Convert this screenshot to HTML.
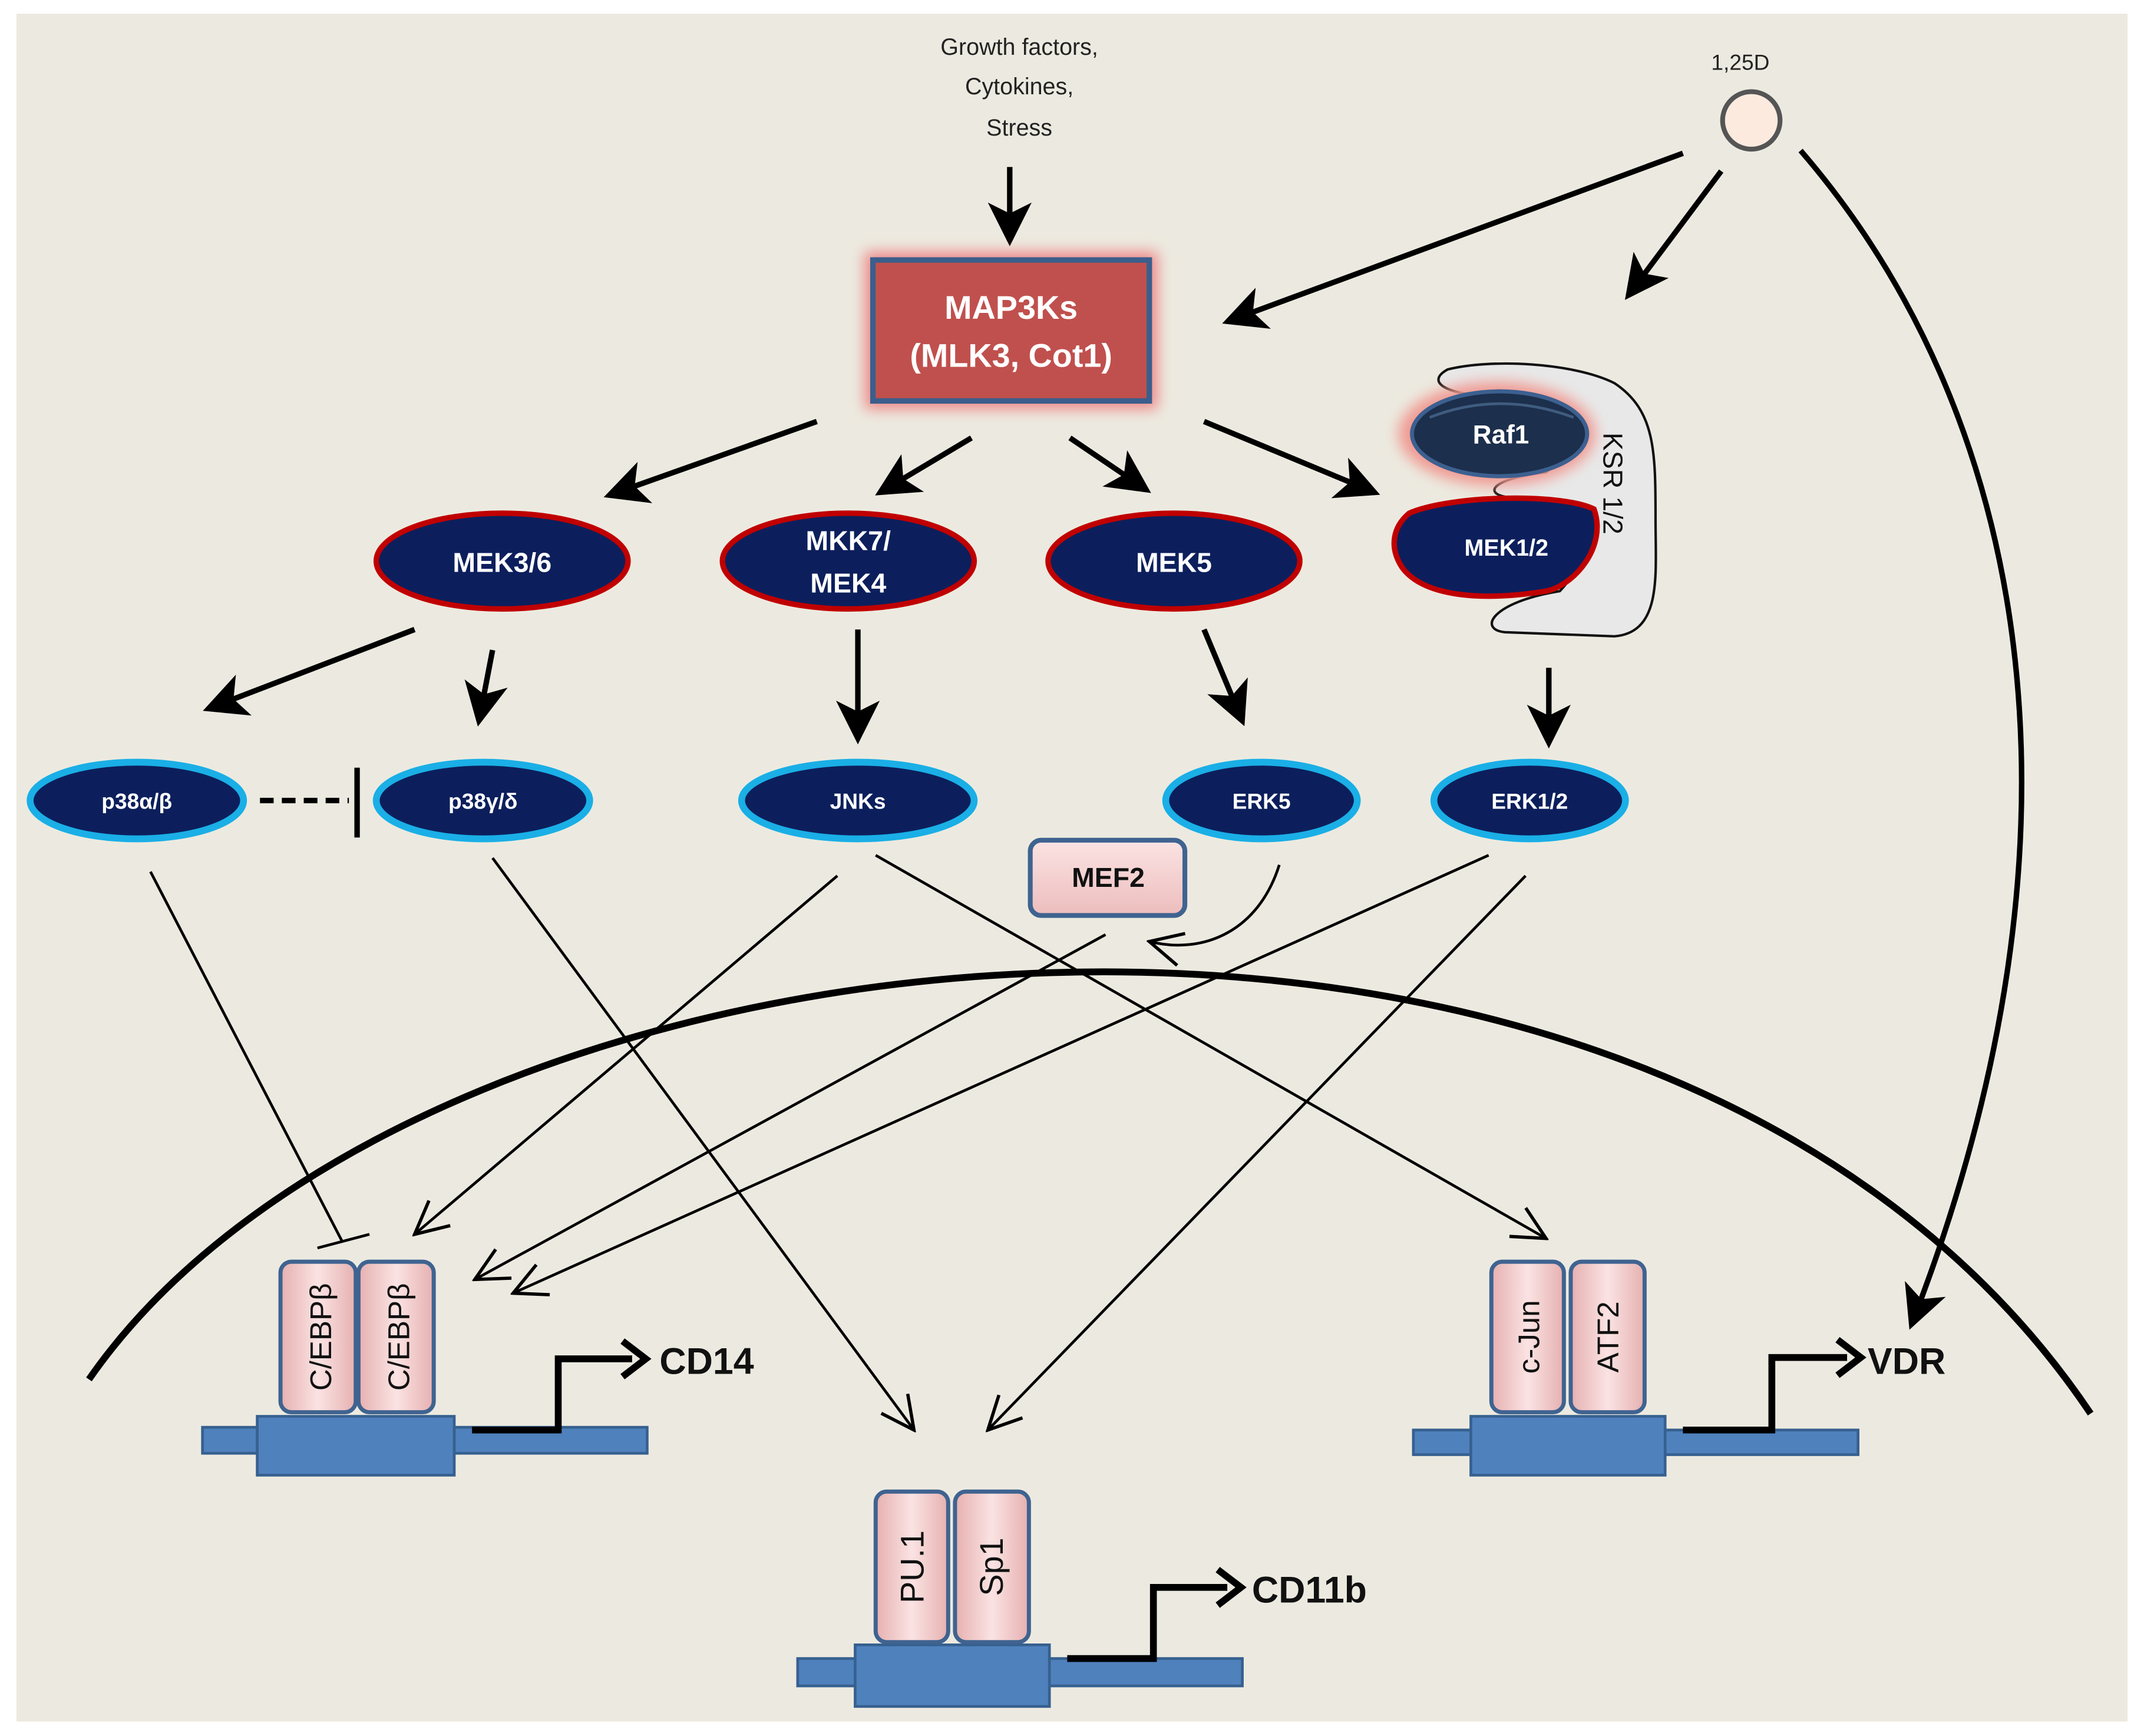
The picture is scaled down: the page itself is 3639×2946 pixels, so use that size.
<!DOCTYPE html>
<html><head><meta charset="utf-8"><style>
html,body{margin:0;padding:0;background:#fff;}
svg{display:block;}
text{font-family:"Liberation Sans","DejaVu Sans",sans-serif;}
</style></head><body>
<svg width="3639" height="2946" viewBox="0 0 1567 1268.6" preserveAspectRatio="none" xmlns="http://www.w3.org/2000/svg">
<defs>
<marker id="a" markerWidth="8" markerHeight="8" refX="7" refY="4" orient="auto" markerUnits="strokeWidth">
<path d="M0,0 L8,4 L0,8 L2,4 Z" fill="#000"/></marker>
<marker id="b" markerWidth="14" markerHeight="14" refX="13" refY="7" orient="auto" markerUnits="strokeWidth">
<path d="M1,1 L13,7 L1,13" fill="none" stroke="#000" stroke-width="1.2"/></marker>
<filter id="g" x="-30%" y="-30%" width="160%" height="160%"><feGaussianBlur stdDeviation="5"/></filter>
<linearGradient id="pk" x1="0" y1="0" x2="1" y2="0"><stop offset="0" stop-color="#E6B0B0"/><stop offset="0.5" stop-color="#FBE3E3"/><stop offset="1" stop-color="#E6B0B0"/></linearGradient>
<linearGradient id="pk2" x1="0" y1="0" x2="0" y2="1"><stop offset="0" stop-color="#FBE3E3"/><stop offset="1" stop-color="#EDBDBD"/></linearGradient>
</defs>
<rect x="0" y="0" width="1567" height="1268.6" fill="#fff"/>
<rect x="12" y="10" width="1543" height="1248" fill="#ECEAE0"/>

<text x="745" y="40" font-size="17" text-anchor="middle" fill="#222">Growth factors,</text>
<text x="745" y="69" font-size="17" text-anchor="middle" fill="#222">Cytokines,</text>
<text x="745" y="99" font-size="17" text-anchor="middle" fill="#222">Stress</text>
<line x1="738" y1="122" x2="738" y2="176" stroke="#000" stroke-width="4" marker-end="url(#a)"/>

<rect x="632" y="184" width="214" height="115" fill="#E88" filter="url(#g)"/>
<rect x="638" y="190" width="202" height="103" fill="#C0504D" stroke="#3B5E8C" stroke-width="4"/>
<text x="739" y="233" font-size="24" font-weight="bold" text-anchor="middle" fill="#fff">MAP3Ks</text>
<text x="739" y="268" font-size="24" font-weight="bold" text-anchor="middle" fill="#fff">(MLK3, Cot1)</text>

<text x="1272" y="51" font-size="16" text-anchor="middle" fill="#222">1,25D</text>
<circle cx="1280" cy="88" r="21" fill="#FDEADF" stroke="#555" stroke-width="3.5"/>
<line x1="1230" y1="112" x2="897" y2="235" stroke="#000" stroke-width="4" marker-end="url(#a)"/>
<line x1="1258" y1="125" x2="1190" y2="216" stroke="#000" stroke-width="4" marker-end="url(#a)"/>
<path d="M1316,110 C1480,300 1540,600 1397,968" fill="none" stroke="#000" stroke-width="4" marker-end="url(#a)"/>

<line x1="597" y1="308" x2="445" y2="362" stroke="#000" stroke-width="4" marker-end="url(#a)"/>
<line x1="710" y1="320" x2="643" y2="360" stroke="#000" stroke-width="4" marker-end="url(#a)"/>
<line x1="782" y1="320" x2="838" y2="358" stroke="#000" stroke-width="4" marker-end="url(#a)"/>
<line x1="880" y1="308" x2="1005" y2="360" stroke="#000" stroke-width="4" marker-end="url(#a)"/>

<path d="M1058,270 C1040,280 1060,290 1100,290 C1150,292 1165,320 1130,345 C1090,350 1085,360 1100,363 C1160,365 1170,400 1140,432 C1090,440 1080,460 1100,462 L1180,465 C1215,462 1210,420 1210,380 C1210,330 1210,300 1180,280 C1150,265 1090,262 1058,270 Z" fill="#E8E8E8" stroke="#111" stroke-width="1.8"/>
<text x="0" y="0" font-size="20" fill="#111" transform="translate(1172,316) rotate(90)">KSR 1/2</text>

<ellipse cx="1094" cy="317" rx="72" ry="38" fill="#F09A92" filter="url(#g)"/>
<ellipse cx="1096" cy="317" rx="64" ry="31" fill="#1C2F4C" stroke="#3C6090" stroke-width="3"/>
<path d="M1045,305 Q1096,285 1150,305" fill="none" stroke="#4F6F96" stroke-width="2" opacity="0.7"/>
<text x="1097" y="324" font-size="19" font-weight="bold" text-anchor="middle" fill="#fff">Raf1</text>

<ellipse cx="367" cy="410" rx="92" ry="35" fill="#0C1F5C" stroke="#C00000" stroke-width="4"/>
<text x="367" y="418" font-size="20" font-weight="bold" text-anchor="middle" fill="#fff">MEK3/6</text>
<ellipse cx="620" cy="410" rx="92" ry="35" fill="#0C1F5C" stroke="#C00000" stroke-width="4"/>
<text x="620" y="402" font-size="20" font-weight="bold" text-anchor="middle" fill="#fff">MKK7/</text>
<text x="620" y="433" font-size="20" font-weight="bold" text-anchor="middle" fill="#fff">MEK4</text>
<ellipse cx="858" cy="410" rx="92" ry="35" fill="#0C1F5C" stroke="#C00000" stroke-width="4"/>
<text x="858" y="418" font-size="20" font-weight="bold" text-anchor="middle" fill="#fff">MEK5</text>
<path d="M1030,375 C1060,362 1140,360 1165,372 C1175,400 1150,428 1130,432 C1080,440 1040,435 1025,415 C1015,400 1018,385 1030,375 Z" fill="#0C1F5C" stroke="#C00000" stroke-width="4"/>
<text x="1101" y="406" font-size="17" font-weight="bold" text-anchor="middle" fill="#fff">MEK1/2</text>

<line x1="303" y1="460" x2="152" y2="518" stroke="#000" stroke-width="4" marker-end="url(#a)"/>
<line x1="360" y1="475" x2="350" y2="527" stroke="#000" stroke-width="4" marker-end="url(#a)"/>
<line x1="627" y1="460" x2="627" y2="540" stroke="#000" stroke-width="4" marker-end="url(#a)"/>
<line x1="880" y1="460" x2="908" y2="527" stroke="#000" stroke-width="4" marker-end="url(#a)"/>
<line x1="1132" y1="488" x2="1132" y2="543" stroke="#000" stroke-width="4" marker-end="url(#a)"/>

<g stroke="#1AAFE6" stroke-width="5" fill="#0C1F5C">
<ellipse cx="100" cy="585" rx="78" ry="28"/>
<ellipse cx="353" cy="585" rx="78" ry="28"/>
<ellipse cx="627" cy="585" rx="85" ry="28"/>
<ellipse cx="922" cy="585" rx="70" ry="28"/>
<ellipse cx="1118" cy="585" rx="70" ry="28"/>
</g>
<g font-size="16" font-weight="bold" text-anchor="middle" fill="#fff">
<text x="100" y="591">p38α/β</text>
<text x="353" y="591">p38γ/δ</text>
<text x="627" y="591">JNKs</text>
<text x="922" y="591">ERK5</text>
<text x="1118" y="591">ERK1/2</text>
</g>
<line x1="190" y1="585" x2="255" y2="585" stroke="#000" stroke-width="4" stroke-dasharray="10,6"/>
<line x1="261" y1="561" x2="261" y2="612" stroke="#000" stroke-width="4"/>

<rect x="753" y="614" width="113" height="55" rx="8" fill="url(#pk2)" stroke="#3F6390" stroke-width="3.5"/>
<text x="810" y="648" font-size="20" font-weight="bold" text-anchor="middle" fill="#111">MEF2</text>
<path d="M935,632 C920,680 880,698 840,688" fill="none" stroke="#000" stroke-width="2" marker-end="url(#b)"/>

<path d="M65,1008 C310,655 1210,560 1528,1033" fill="none" stroke="#000" stroke-width="5"/>

<g stroke="#000" stroke-width="2" fill="none">
<line x1="110" y1="637" x2="250" y2="907"/>
<line x1="232" y1="912" x2="270" y2="902"/>
<line x1="360" y1="627" x2="668" y2="1045" marker-end="url(#b)"/>
<line x1="612" y1="640" x2="303" y2="902" marker-end="url(#b)"/>
<line x1="640" y1="625" x2="1130" y2="905" marker-end="url(#b)"/>
<line x1="808" y1="683" x2="347" y2="935" marker-end="url(#b)"/>
<line x1="1088" y1="625" x2="375" y2="945" marker-end="url(#b)"/>
<line x1="1115" y1="640" x2="722" y2="1045" marker-end="url(#b)"/>
</g>

<rect x="148" y="1043" width="325" height="19" fill="#4F81BD" stroke="#36608F" stroke-width="2"/>
<rect x="188" y="1035" width="144" height="43" fill="#4F81BD" stroke="#36608F" stroke-width="2"/>
<rect x="205" y="922" width="55" height="110" rx="8" fill="url(#pk)" stroke="#3F6390" stroke-width="3"/>
<rect x="262" y="922" width="55" height="110" rx="8" fill="url(#pk)" stroke="#3F6390" stroke-width="3"/>
<text transform="translate(242,977) rotate(-90)" font-size="22" text-anchor="middle" fill="#111">C/EBPβ</text>
<text transform="translate(299,977) rotate(-90)" font-size="22" text-anchor="middle" fill="#111">C/EBPβ</text>
<path d="M345,1045 L408,1045 L408,993 L462,993" fill="none" stroke="#000" stroke-width="5"/>
<path d="M455,980 L472,993 L455,1006" fill="none" stroke="#000" stroke-width="5"/>
<text x="482" y="1004" font-size="27" font-weight="bold" fill="#111">CD14</text>

<rect x="1033" y="1045" width="325" height="18" fill="#4F81BD" stroke="#36608F" stroke-width="2"/>
<rect x="1075" y="1035" width="142" height="43" fill="#4F81BD" stroke="#36608F" stroke-width="2"/>
<rect x="1090" y="922" width="53" height="110" rx="8" fill="url(#pk)" stroke="#3F6390" stroke-width="3"/>
<rect x="1148" y="922" width="54" height="110" rx="8" fill="url(#pk)" stroke="#3F6390" stroke-width="3"/>
<text transform="translate(1125,977) rotate(-90)" font-size="22" text-anchor="middle" fill="#111">c-Jun</text>
<text transform="translate(1183,977) rotate(-90)" font-size="22" text-anchor="middle" fill="#111">ATF2</text>
<path d="M1230,1045 L1295,1045 L1295,992 L1350,992" fill="none" stroke="#000" stroke-width="5"/>
<path d="M1343,979 L1360,992 L1343,1005" fill="none" stroke="#000" stroke-width="5"/>
<text x="1365" y="1004" font-size="27" font-weight="bold" fill="#111">VDR</text>

<rect x="583" y="1212" width="325" height="20" fill="#4F81BD" stroke="#36608F" stroke-width="2"/>
<rect x="625" y="1202" width="142" height="45" fill="#4F81BD" stroke="#36608F" stroke-width="2"/>
<rect x="640" y="1090" width="53" height="110" rx="8" fill="url(#pk)" stroke="#3F6390" stroke-width="3"/>
<rect x="698" y="1090" width="54" height="110" rx="8" fill="url(#pk)" stroke="#3F6390" stroke-width="3"/>
<text transform="translate(675,1145) rotate(-90)" font-size="24" text-anchor="middle" fill="#111">PU.1</text>
<text transform="translate(733,1145) rotate(-90)" font-size="24" text-anchor="middle" fill="#111">Sp1</text>
<path d="M780,1212 L843,1212 L843,1160 L897,1160" fill="none" stroke="#000" stroke-width="5"/>
<path d="M890,1147 L907,1160 L890,1173" fill="none" stroke="#000" stroke-width="5"/>
<text x="915" y="1171" font-size="27" font-weight="bold" fill="#111">CD11b</text>
</svg>
</body></html>
